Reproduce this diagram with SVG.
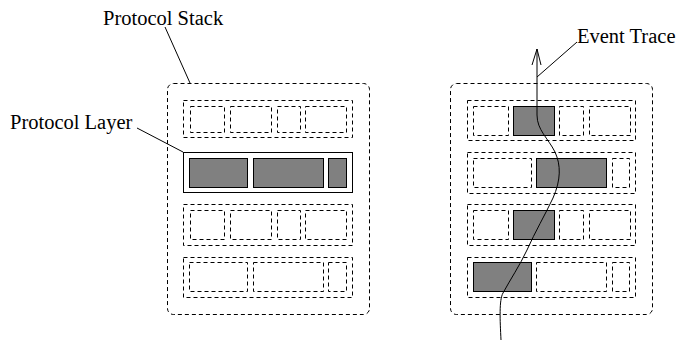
<svg xmlns="http://www.w3.org/2000/svg" width="680" height="341" viewBox="0 0 680 341">
<style>
.d{fill:none;stroke:#000;stroke-width:1;stroke-dasharray:4 3}
.f{fill:#808080;stroke:#000;stroke-width:1}
.s{fill:none;stroke:#000;stroke-width:1}
.t{font-family:"Liberation Serif","Times New Roman",serif;font-size:20.5px;fill:#000}
</style>
<rect width="680" height="341" fill="#fff"/>
<g id="stack-left">
<rect class="d" x="167.5" y="83.5" width="202" height="231" rx="6"/>
<g id="left-row1">
<rect class="d" x="183.5" y="100.5" width="169" height="37"/>
<rect class="d" x="190.5" y="106.5" width="34" height="26"/>
<rect class="d" x="230.5" y="106.5" width="41" height="26"/>
<rect class="d" x="277.5" y="106.5" width="23" height="26"/>
<rect class="d" x="305.5" y="106.5" width="41" height="26"/>
</g>
<g id="left-row2">
<rect class="s" x="183.5" y="152.5" width="169" height="40"/>
<rect class="f" x="189.5" y="158.5" width="58" height="29"/>
<rect class="f" x="253.5" y="158.5" width="70" height="29"/>
<rect class="f" x="328.5" y="158.5" width="18" height="29"/>
</g>
<g id="left-row3">
<rect class="d" x="183.5" y="204.5" width="169" height="41"/>
<rect class="d" x="190.5" y="210.5" width="34" height="29"/>
<rect class="d" x="230.5" y="210.5" width="41" height="29"/>
<rect class="d" x="277.5" y="210.5" width="23" height="29"/>
<rect class="d" x="305.5" y="210.5" width="41" height="29"/>
</g>
<g id="left-row4">
<rect class="d" x="183.5" y="257.5" width="169" height="40"/>
<rect class="d" x="189.5" y="262.5" width="58" height="29"/>
<rect class="d" x="253.5" y="262.5" width="70" height="29"/>
<rect class="d" x="328.5" y="262.5" width="18" height="29"/>
</g>
</g>
<g id="stack-right">
<rect class="d" x="450.5" y="83.5" width="202" height="231" rx="6"/>
<g id="right-row1">
<rect class="d" x="467.5" y="100.5" width="168" height="40"/>
<rect class="d" x="473.5" y="106.5" width="35" height="29"/>
<rect class="f" x="513.5" y="106.5" width="41" height="29"/>
<rect class="d" x="559.5" y="106.5" width="24" height="29"/>
<rect class="d" x="589.5" y="106.5" width="41" height="29"/>
</g>
<g id="right-row2">
<rect class="d" x="467.5" y="152.5" width="168" height="41"/>
<rect class="d" x="473.5" y="158.5" width="58" height="29"/>
<rect class="f" x="536.5" y="158.5" width="70" height="29"/>
<rect class="d" x="612.5" y="158.5" width="17" height="29"/>
</g>
<g id="right-row3">
<rect class="d" x="467.5" y="204.5" width="168" height="41"/>
<rect class="d" x="473.5" y="210.5" width="35" height="29"/>
<rect class="f" x="513.5" y="210.5" width="41" height="29"/>
<rect class="d" x="559.5" y="210.5" width="24" height="29"/>
<rect class="d" x="589.5" y="210.5" width="41" height="29"/>
</g>
<g id="right-row4">
<rect class="d" x="467.5" y="257.5" width="168" height="40"/>
<rect class="f" x="473.5" y="262.5" width="58" height="29"/>
<rect class="d" x="536.5" y="262.5" width="70" height="29"/>
<rect class="d" x="612.5" y="262.5" width="17" height="29"/>
</g>
</g>
<g id="connectors">
<path class="s" d="M501,340 C500,320 499,300 503,293 C510,280 520,265 527,250 C535,232 545,215 553,198 C561,180 561,165 555,152 C548,138 537,130 537,115 L537,49"/>
<path class="s" d="M532,65 L537,49 L541,65"/>
<line class="s" x1="577" y1="42" x2="537" y2="77"/>
<line class="s" x1="165" y1="27" x2="190" y2="83"/>
<line class="s" x1="137" y1="128" x2="183" y2="152"/>
</g>
<g id="labels">
<text class="t" x="103" y="25">Protocol Stack</text>
<text class="t" x="10" y="129">Protocol Layer</text>
<text class="t" x="577" y="43">Event Trace</text>
</g>
</svg>
